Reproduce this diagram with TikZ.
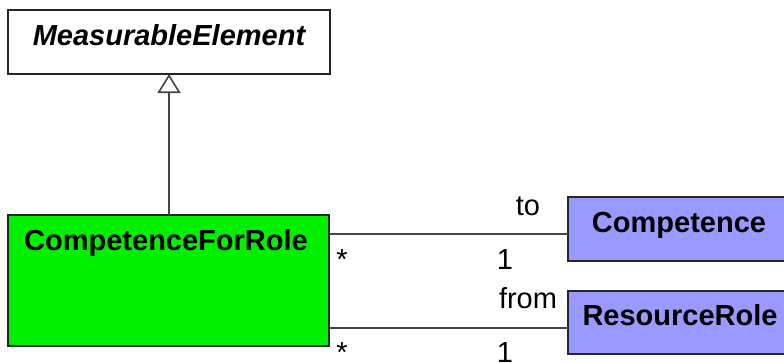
\documentclass[tikz,border=0pt]{standalone}
\usepackage{fontspec}
\setmainfont{Liberation Sans}
\usetikzlibrary{arrows.meta, positioning}
\definecolor{rolegreen}{RGB}{0,240,0}
\definecolor{refblue}{RGB}{153,153,255}
\definecolor{linegray}{RGB}{68,68,68}

\begin{document}
\begin{tikzpicture}[x=1pt, y=-1pt, line width=2pt,
    every node/.style={font=\fontsize{29}{34}\selectfont, inner sep=0pt},
    classbox/.style={draw=black!85, anchor=north west, outer sep=0pt},
    classname/.style={font=\fontsize{29}{34}\selectfont\bfseries, anchor=base},
    assoc/.style={draw=linegray},
    mult/.style={anchor=base}]
  \useasboundingbox (0,0) rectangle (784,362);
  % classes
  \node[classbox, fill=white, minimum width=322, minimum height=64] (meas) at (8,10) {};
  \node[classname, font=\fontsize{29}{34}\selectfont\bfseries\itshape] (meas-name) at (169,45) {MeasurableElement};
  \node[classbox, fill=rolegreen, minimum width=321, minimum height=131] (cfr) at (8,215) {};
  \node[classname] (cfr-name) at (166,250) {CompetenceForRole};
  \node[classbox, fill=refblue, minimum width=226, minimum height=64] (comp) at (568,197) {};
  \node[classname] (comp-name) at (679,232) {Competence};
  \node[classbox, fill=refblue, minimum width=226, minimum height=63] (role) at (568,291) {};
  \node[classname] (role-name) at (680,325) {ResourceRole};
  % generalisation
  \draw[assoc, -{Triangle[open, length=19pt, width=23pt, line width=1.6pt]}] (cfr.north -| 169,0) -- (meas.south -| 169,0);
  % associations
  \draw[assoc] ([yshift=-5pt]comp.west -| cfr.east) -- ([yshift=-5pt]comp.west);
  \draw[assoc] ([yshift=-5pt]role.west -| cfr.east) -- ([yshift=-5pt]role.west);
  \node[mult] (to-lbl) at (528,215) {to};
  \node[mult] (to-one) at (505,269) {1};
  \node[mult] (to-many) at (342,269) {*};
  \node[mult] (from-lbl) at (528,308) {from};
  \node[mult] (from-one) at (505,362) {1};
  \node[mult] (from-many) at (342,362) {*};
\end{tikzpicture}
\end{document}
